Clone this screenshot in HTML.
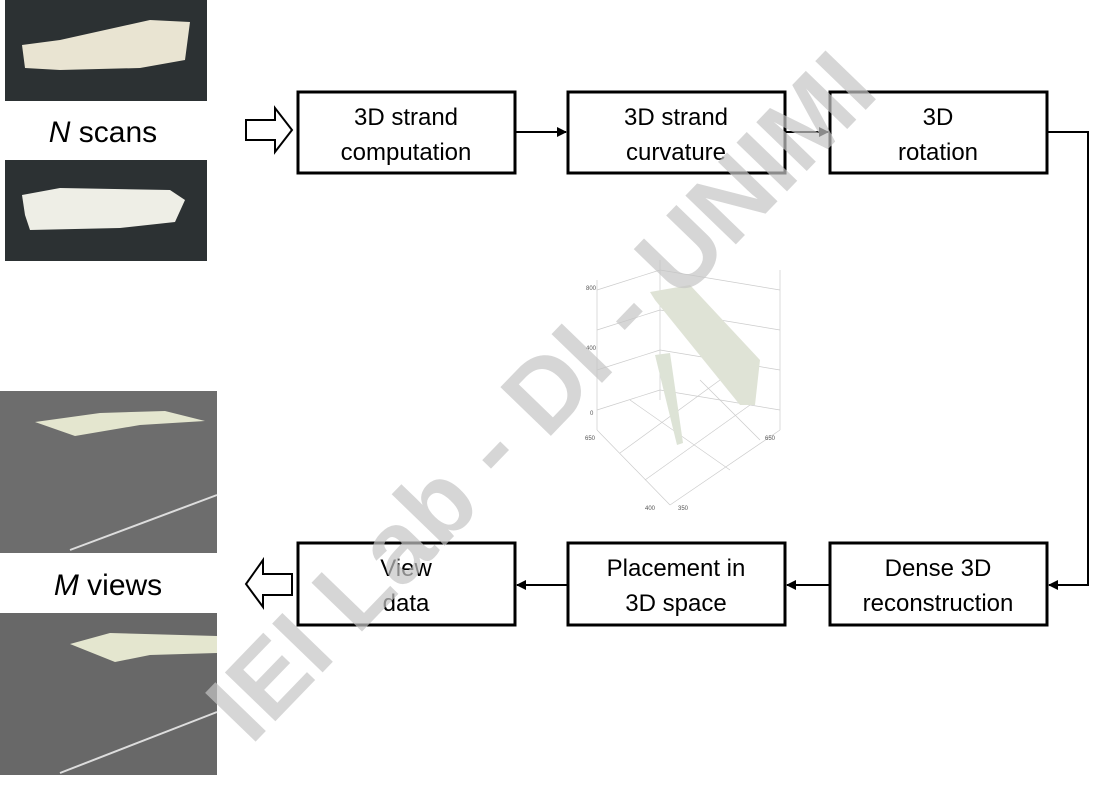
<!DOCTYPE html>
<html><head><style>
body{margin:0;background:#fff;width:1094px;height:783px;overflow:hidden;font-family:"Liberation Sans",sans-serif}
</style></head><body>
<svg width="1094" height="783" xmlns="http://www.w3.org/2000/svg" font-family="Liberation Sans, sans-serif">
<defs><marker id="ah" markerWidth="10" markerHeight="10" refX="9" refY="5" orient="auto" markerUnits="userSpaceOnUse"><path d="M0,0 L10,5 L0,10z" fill="#000"/></marker></defs>
<rect x="5" y="0" width="202" height="101" fill="#2c3133"/>
<path d="M22,45 L60,40 L150,20 L190,22 L185,60 L140,68 L60,70 L25,68 Z" fill="#e9e4d2"/>
<rect x="5" y="160" width="202" height="101" fill="#2c3133"/>
<path d="M22,195 L60,188 L170,190 L185,200 L175,222 L120,228 L30,230 L25,215 Z" fill="#eeeee6"/>
<text x="103" y="142" font-size="30" text-anchor="middle"><tspan font-style="italic">N</tspan> scans</text>
<rect x="0" y="391" width="217" height="162" fill="#6d6d6d"/>
<path d="M35,422 L100,413 L165,411 L205,421 L140,425 L75,436 Z" fill="#e4e6cf"/>
<line x1="70" y1="550" x2="217" y2="495" stroke="#ddd" stroke-width="2"/>
<rect x="0" y="613" width="217" height="162" fill="#686868"/>
<path d="M70,644 L110,633 L217,636 L217,653 L150,655 L115,662 Z" fill="#e4e6cf"/>
<line x1="60" y1="773" x2="217" y2="712" stroke="#ddd" stroke-width="2"/>
<text x="108" y="595" font-size="30" text-anchor="middle"><tspan font-style="italic">M</tspan> views</text>
<path d="M246,120 L275,120 L275,108 L292,130 L275,152 L275,140 L246,140 Z" fill="#fff" stroke="#000" stroke-width="2"/>
<path d="M292,574 L263,574 L263,560 L246,584 L263,607 L263,595 L292,595 Z" fill="#fff" stroke="#000" stroke-width="2"/>
<g fill="#fff" stroke="#000" stroke-width="3">
<rect x="298" y="92" width="217" height="81"/><rect x="568" y="92" width="217" height="81"/><rect x="830" y="92" width="217" height="81"/>
<rect x="298" y="543" width="217" height="82"/><rect x="568" y="543" width="217" height="82"/><rect x="830" y="543" width="217" height="82"/>
</g>
<g stroke="#000" stroke-width="2" fill="none">
<line x1="516" y1="132" x2="566" y2="132" marker-end="url(#ah)"/>
<line x1="786" y1="132" x2="828" y2="132" marker-end="url(#ah)"/>
<polyline points="1048,132 1088,132 1088,585 1049,585" marker-end="url(#ah)"/>
<line x1="829" y1="585" x2="787" y2="585" marker-end="url(#ah)"/>
<line x1="567" y1="585" x2="517" y2="585" marker-end="url(#ah)"/>
</g>
<g font-size="24" text-anchor="middle" fill="#000">
<text x="406" y="125">3D strand</text><text x="406" y="160">computation</text>
<text x="676" y="125">3D strand</text><text x="676" y="160">curvature</text>
<text x="938" y="125">3D</text><text x="938" y="160">rotation</text>
<text x="406" y="576">View</text><text x="406" y="611">data</text>
<text x="676" y="576">Placement in</text><text x="676" y="611">3D space</text>
<text x="938" y="576">Dense 3D</text><text x="938" y="611">reconstruction</text>
</g>
<g stroke="#ccc" stroke-width="0.7" fill="none">
<line x1="597" y1="280" x2="597" y2="430"/><line x1="660" y1="260" x2="660" y2="400"/><line x1="780" y1="270" x2="780" y2="430"/>
<line x1="597" y1="430" x2="670" y2="505"/><line x1="670" y1="505" x2="780" y2="430"/>
<line x1="597" y1="290" x2="660" y2="270"/><line x1="597" y1="330" x2="660" y2="310"/><line x1="597" y1="370" x2="660" y2="350"/><line x1="597" y1="410" x2="660" y2="390"/>
<line x1="660" y1="270" x2="780" y2="290"/><line x1="660" y1="310" x2="780" y2="330"/><line x1="660" y1="350" x2="780" y2="370"/><line x1="660" y1="390" x2="780" y2="410"/>
<line x1="620" y1="453" x2="720" y2="380"/><line x1="645" y1="480" x2="750" y2="405"/>
<line x1="630" y1="400" x2="730" y2="470"/><line x1="700" y1="380" x2="760" y2="440"/>
</g>
<path d="M650,292 L690,285 L760,360 L755,405 L740,405 L655,300 Z" fill="#dfe3d6"/>
<path d="M655,355 L670,353 L683,443 L677,445 Z" fill="#dde3d6"/>
<g font-size="6" fill="#555"><text x="586" y="290">800</text><text x="586" y="350">400</text><text x="590" y="415">0</text><text x="585" y="440">650</text><text x="645" y="510">400</text><text x="678" y="510">350</text><text x="765" y="440">650</text></g>
<text x="555" y="425" font-size="102" font-weight="bold" fill="#c4c4c4" fill-opacity="0.7" text-anchor="middle" transform="rotate(-46 555 410)">IEI Lab - DI - UNIMI</text>
</svg>
</body></html>
